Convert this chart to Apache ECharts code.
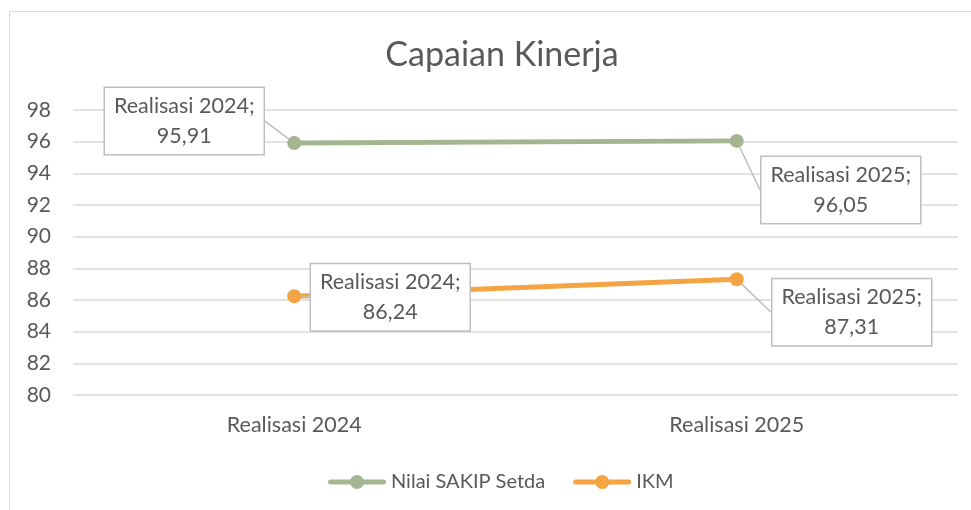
<!DOCTYPE html>
<html>
<head>
<meta charset="utf-8">
<script src="https://cdn.jsdelivr.net/npm/echarts@6/dist/echarts.min.js"></script>
<style>html,body{margin:0;padding:0;background:#fff}#c{width:971px;height:510px}</style>
</head>
<body>
<div id="c"></div>
<script>
const categories = ['Realisasi 2024', 'Realisasi 2025'];
const sakipValues = [95.91, 96.05];
const ikmValues = [86.24, 87.31];
const seriesNames = ['Nilai SAKIP Setda', 'IKM'];
const yTicks = [80, 82, 84, 86, 88, 90, 92, 94, 96, 98];
const chartTitle = 'Capaian Kinerja';

const FONT = 'Lato, Carlito, Calibri, sans-serif';
const TXT = '#595959';
// label box centre offsets relative to the point: [series][dataIndex]
const labelOffsets = [
  [[-110, -22], [104, 49]],
  [[96, 1], [115, 33]]
];
const LEGEND_ICON = 'path://M2.5,4.5 L55.5,4.5 A2.5,2.5 0 0 1 55.5,9.5 L2.5,9.5 A2.5,2.5 0 0 1 2.5,4.5 Z M36,7 A7,7 0 1 1 22,7 A7,7 0 1 1 36,7 Z';

const chart = echarts.init(document.getElementById('c'), null, {renderer: 'canvas'});

function fmt(p) {
  return p.name + ';\n' + String(p.value).replace('.', ',');
}

function mkSeries(name, data, color, si) {
  return {
    name: name,
    type: 'line',
    data: data,
    symbol: 'circle',
    symbolSize: 14,
    lineStyle: {color: color, width: 5},
    itemStyle: {color: color},
    z: si === 0 ? 3 : 2,
    label: {
      show: true,
      position: 'inside',
      formatter: fmt,
      fontFamily: FONT,
      fontSize: 21.5,
      lineHeight: 30,
      color: TXT,
      align: 'center',
      backgroundColor: '#fff',
      borderColor: '#BFBFBF',
      borderWidth: 1.5,
      padding: [3, 9, 3, 9]
    },
    labelLine: {show: true, lineStyle: {color: '#BFBFBF', width: 1.5}},
    labelLayout: function (params) {
      const o = labelOffsets[si][params.dataIndex];
      return {dx: o[0], dy: o[1]};
    },
    animation: false
  };
}

chart.setOption({
  animation: false,
  graphic: [{
    type: 'rect',
    shape: {x: 9.5, y: 11.5, width: 1000, height: 600},
    style: {fill: 'none', stroke: '#D9D9D9', lineWidth: 1},
    silent: true
  }],
  title: {
    text: chartTitle,
    left: 497,
    textAlign: 'center',
    top: 33,
    textStyle: {fontFamily: FONT, fontSize: 34, fontWeight: 'normal', color: TXT}
  },
  grid: {left: 73, right: 13, top: 110, bottom: 115, containLabel: false},
  xAxis: {
    type: 'category',
    data: categories,
    boundaryGap: true,
    axisLine: {show: false},
    axisTick: {show: false},
    axisLabel: {fontFamily: FONT, fontSize: 21.5, color: TXT, margin: 19}
  },
  yAxis: {
    type: 'value',
    min: yTicks[0],
    max: yTicks[yTicks.length - 1],
    interval: 2,
    axisLine: {show: false},
    axisTick: {show: false},
    axisLabel: {fontFamily: FONT, fontSize: 21, color: TXT, margin: 22},
    splitLine: {lineStyle: {color: '#D9D9D9', width: 1.5}}
  },
  legend: {
    data: [
      {name: seriesNames[0], icon: LEGEND_ICON},
      {name: seriesNames[1], icon: LEGEND_ICON}
    ],
    left: 323,
    top: 467,
    itemWidth: 58,
    itemHeight: 14,
    itemGap: 28,
    textStyle: {fontFamily: FONT, fontSize: 20, color: TXT}
  },
  series: [
    mkSeries(seriesNames[0], sakipValues, '#A5B592', 0),
    mkSeries(seriesNames[1], ikmValues, '#F4A442', 1)
  ]
});
</script>
</body>
</html>
